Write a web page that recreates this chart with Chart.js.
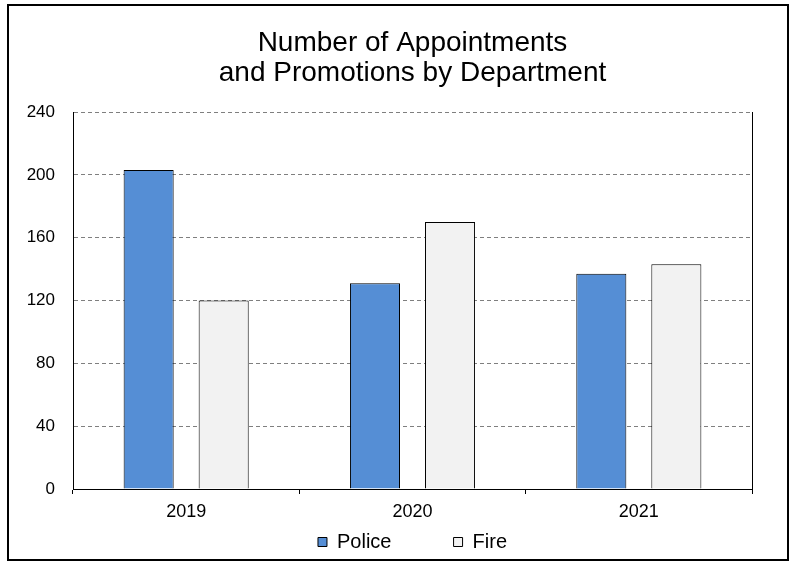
<!DOCTYPE html>
<html>
<head>
<meta charset="utf-8">
<script src="https://cdn.jsdelivr.net/npm/chart.js@4/dist/chart.umd.min.js"></script>
<style>
    html, body { margin: 0; padding: 0; background: #fff; }
    #wrap { position: relative; width: 789px; height: 562px; }
    #frame {
        position: absolute; left: 7px; top: 4px; width: 782px; height: 557px;
        box-sizing: border-box; border: 2px solid #000; pointer-events: none;
    }
    canvas { position: absolute; left: 0; top: 0; }
</style>
</head>
<body>
<div id="wrap">
    <canvas id="deptChart" width="789" height="562"></canvas>
    <div id="frame"></div>
</div>
<script>
// ================= DATA =================
const years = ["2019", "2020", "2021"];
const policeCounts = [203, 131, 137];
const fireCounts = [120, 170, 143];
const yTicks = [0, 40, 80, 120, 160, 200, 240];

const FONT = "'Liberation Sans', Arial, sans-serif";

// ================= CHART =================
new Chart(document.getElementById("deptChart"), {
    type: "bar",
    data: {
        labels: years,
        datasets: [
            {
                label: "Police",
                data: policeCounts,
                backgroundColor: "#558ED5",
                borderColor: "#000",
                borderWidth: 1
            },
            {
                label: "Fire",
                data: fireCounts,
                backgroundColor: "#F2F2F2",
                borderColor: "#000",
                borderWidth: 1
            }
        ]
    },
    options: {
        responsive: false,
        animation: false,
        devicePixelRatio: 1,
        categoryPercentage: 0.663,
        barPercentage: 0.667,
        layout: { padding: { left: 0, right: 37, top: 0, bottom: 0 } },
        plugins: {
            tooltip: { enabled: false },
            title: {
                display: true,
                fullSize: false,
                text: ["Number of Appointments", "and Promotions by Department"],
                color: "#000",
                font: { family: FONT, size: 28, weight: "normal", lineHeight: 30 / 28 },
                padding: { top: 28, bottom: 24 }
            },
            legend: {
                position: "bottom",
                fullSize: false,
                labels: {
                    color: "#000",
                    font: { family: FONT, size: 20 },
                    boxWidth: 9,
                    boxHeight: 9,
                    padding: 1,
                    // wider gap after the first entry
                    generateLabels(chart) {
                        const items = Chart.defaults.plugins.legend.labels.generateLabels(chart);
                        items.forEach((it, i) => {
                            it.lineWidth = 1;
                            it.strokeStyle = "#000";
                            if (i === 0) it.text = it.text + "\u00a0".repeat(11);
                        });
                        return items;
                    }
                }
            }
        },
        scales: {
            x: {
                offset: true,
                grid: {
                    offset: true,
                    drawOnChartArea: false,
                    drawTicks: true,
                    tickLength: 5,
                    color: "#000"
                },
                border: { display: true, color: "#000", width: 1 },
                ticks: { color: "#000", padding: 7, font: { family: FONT, size: 18 } },
                afterFit(axis) { axis.height = 42; }
            },
            y: {
                min: 0,
                max: 240,
                afterBuildTicks(axis) { axis.ticks = yTicks.map(v => ({ value: v })); },
                grid: {
                    drawTicks: false,
                    color: ctx => (ctx.tick && ctx.tick.value === 0) ? "rgba(0,0,0,0)" : "#7f7f7f",
                    lineWidth: 1
                },
                border: { display: true, color: "#000", width: 1, dash: [4, 3] },
                ticks: { color: "#000", padding: 18, font: { family: FONT, size: 17 } },
                afterFit(axis) { axis.width = 73; }
            },
            y2: {
                type: "linear",
                position: "right",
                min: 0,
                max: 240,
                grid: { drawOnChartArea: false, drawTicks: false },
                border: { display: true, color: "#000", width: 1 },
                ticks: { display: false },
                afterFit(axis) { axis.width = 0; }
            }
        }
    }
});
</script>
</body>
</html>
